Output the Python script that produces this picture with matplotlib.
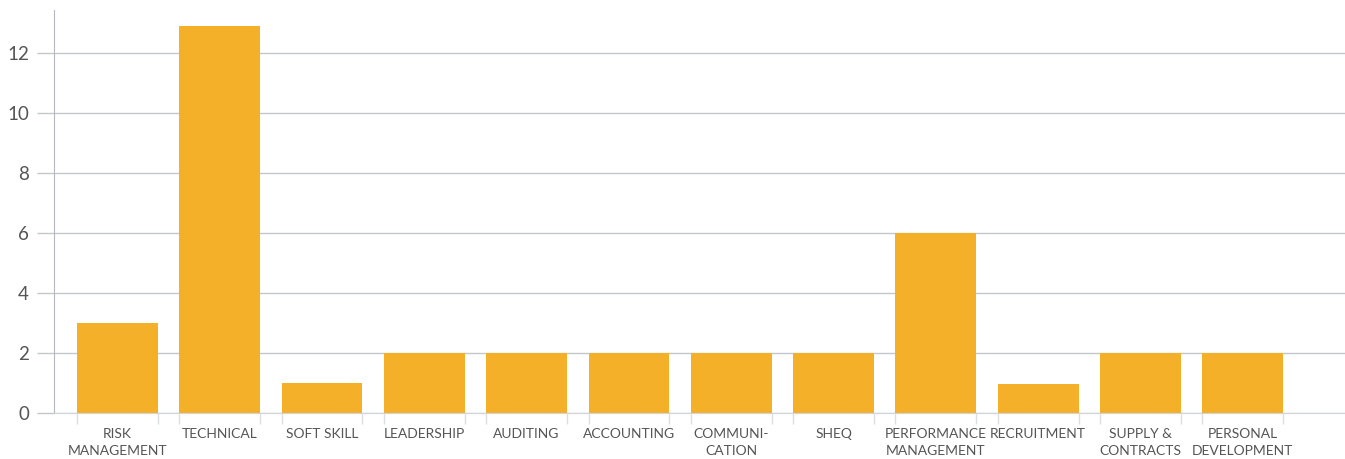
import numpy as np
import matplotlib
matplotlib.use("Agg")
from matplotlib import pyplot as plt

categories = [
    "RISK\nMANAGEMENT", "TECHNICAL", "SOFT SKILL", "LEADERSHIP", "AUDITING",
    "ACCOUNTING", "COMMUNI-\nCATION", "SHEQ", "PERFORMANCE\nMANAGEMENT",
    "RECRUITMENT", "SUPPLY &\nCONTRACTS", "PERSONAL\nDEVELOPMENT",
]
values = [3.0, 12.9, 1.0, 2.0, 2.0, 2.0, 2.0, 2.0, 6.0, 0.95, 2.0, 2.0]
y_ticks = [0, 2, 4, 6, 8, 10, 12]

plt.rcParams["font.family"] = ["Lato", "DejaVu Sans"]

bar_color = "#F5B02A"
grid_color = "#c3c7cb"
text_color = "#555555"
bar_width = 0.79

fig = plt.figure(figsize=(13.45, 4.59), dpi=100)
ax = fig.add_axes([54 / 1345, (459 - 413) / 459, 1 - 54 / 1345, 403 / 459])

x = np.arange(len(categories))
ax.bar(x, values, width=bar_width, color=bar_color, zorder=3)

ax.set_xlim(-0.62, 12.0)
ax.set_ylim(0, 13.43)

# y axis
ax.set_yticks(y_ticks)
ax.yaxis.grid(True, color=grid_color, linewidth=1.0, zorder=0)
ax.tick_params(axis="y", length=12, width=1.0, color=grid_color,
               labelsize=13.5, labelcolor=text_color, pad=6)

# x axis: labels centred under bars, small marks at the bar edges
ax.set_xticks(x)
ax.set_xticklabels(categories, fontsize=10, color=text_color, linespacing=1.5)
ax.tick_params(axis="x", which="major", length=0, pad=11)
edges = np.concatenate([x - bar_width / 2, x + bar_width / 2])
ax.set_xticks(edges, minor=True)
ax.tick_params(axis="x", which="minor", length=8, width=1.0, color="#dde0e3")

for side in ["top", "right"]:
    ax.spines[side].set_visible(False)
ax.spines["left"].set_color("#b5b9bd")
ax.spines["bottom"].set_color("#d0d4d8")
ax.spines["bottom"].set_zorder(4)

fig.savefig("out.png", dpi=100)
